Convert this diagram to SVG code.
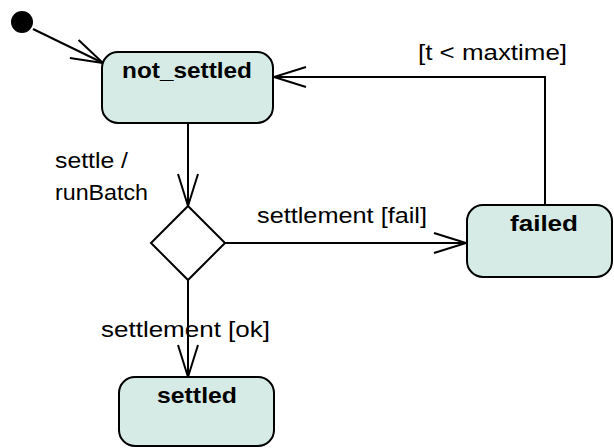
<svg xmlns="http://www.w3.org/2000/svg" width="614" height="448" viewBox="0 0 614 448">
  <style>
    .state { fill: #d6ebe5; stroke: #000; stroke-width: 2; }
    .decision { fill: #fff; stroke: #000; stroke-width: 2; }
    .edge { fill: none; stroke: #000; stroke-width: 2; marker-end: url(#open); }
    .name { font-family: "Liberation Sans", Arial, sans-serif; font-size: 22px; font-weight: bold; fill: #000; }
    .label { font-family: "Liberation Sans", Arial, sans-serif; font-size: 21.5px; fill: #000; }
  </style>
  <defs>
    <marker id="open" markerUnits="userSpaceOnUse" viewBox="-34 -12 36 24" markerWidth="36" markerHeight="24" refX="0" refY="0" orient="auto" overflow="visible">
      <path d="M-32,-10 L0,0 L-32,10" fill="none" stroke="#000" stroke-width="2"/>
    </marker>
  </defs>
  <rect width="614" height="448" fill="#fff"/>

  <g id="connectors">
    <path class="edge" d="M33,29 L103,63"/>
    <path class="edge" d="M188,123 L188,206"/>
    <path class="edge" d="M225,243 L466,243"/>
    <path class="edge" d="M188,280 L188,377"/>
    <path class="edge" d="M545,205 L545,77 L274,77"/>
    <text class="label" x="55" y="168" textLength="73" lengthAdjust="spacingAndGlyphs">settle /</text>
    <text class="label" x="55" y="200" textLength="93" lengthAdjust="spacingAndGlyphs">runBatch</text>
    <text class="label" x="257" y="223" textLength="170" lengthAdjust="spacingAndGlyphs">settlement [fail]</text>
    <text class="label" x="101" y="337" textLength="169" lengthAdjust="spacingAndGlyphs">settlement [ok]</text>
    <text class="label" x="418" y="60" textLength="149" lengthAdjust="spacingAndGlyphs">[t &lt; maxtime]</text>
  </g>

  <g id="initial">
    <circle cx="22" cy="22" r="11" fill="#000"/>
  </g>

  <g id="not_settled">
    <rect class="state" x="102" y="52" width="171" height="71" rx="16"/>
    <text class="name" x="122" y="78" textLength="130" lengthAdjust="spacingAndGlyphs">not_settled</text>
  </g>

  <g id="decision">
    <polygon class="decision" points="188,206 225,243 188,280 151,243"/>
  </g>

  <g id="failed">
    <rect class="state" x="467" y="205" width="145" height="72" rx="16"/>
    <text class="name" x="510" y="231" textLength="68" lengthAdjust="spacingAndGlyphs">failed</text>
  </g>

  <g id="settled">
    <rect class="state" x="119" y="377" width="155" height="69" rx="16"/>
    <text class="name" x="157" y="403" textLength="80" lengthAdjust="spacingAndGlyphs">settled</text>
  </g>
</svg>
